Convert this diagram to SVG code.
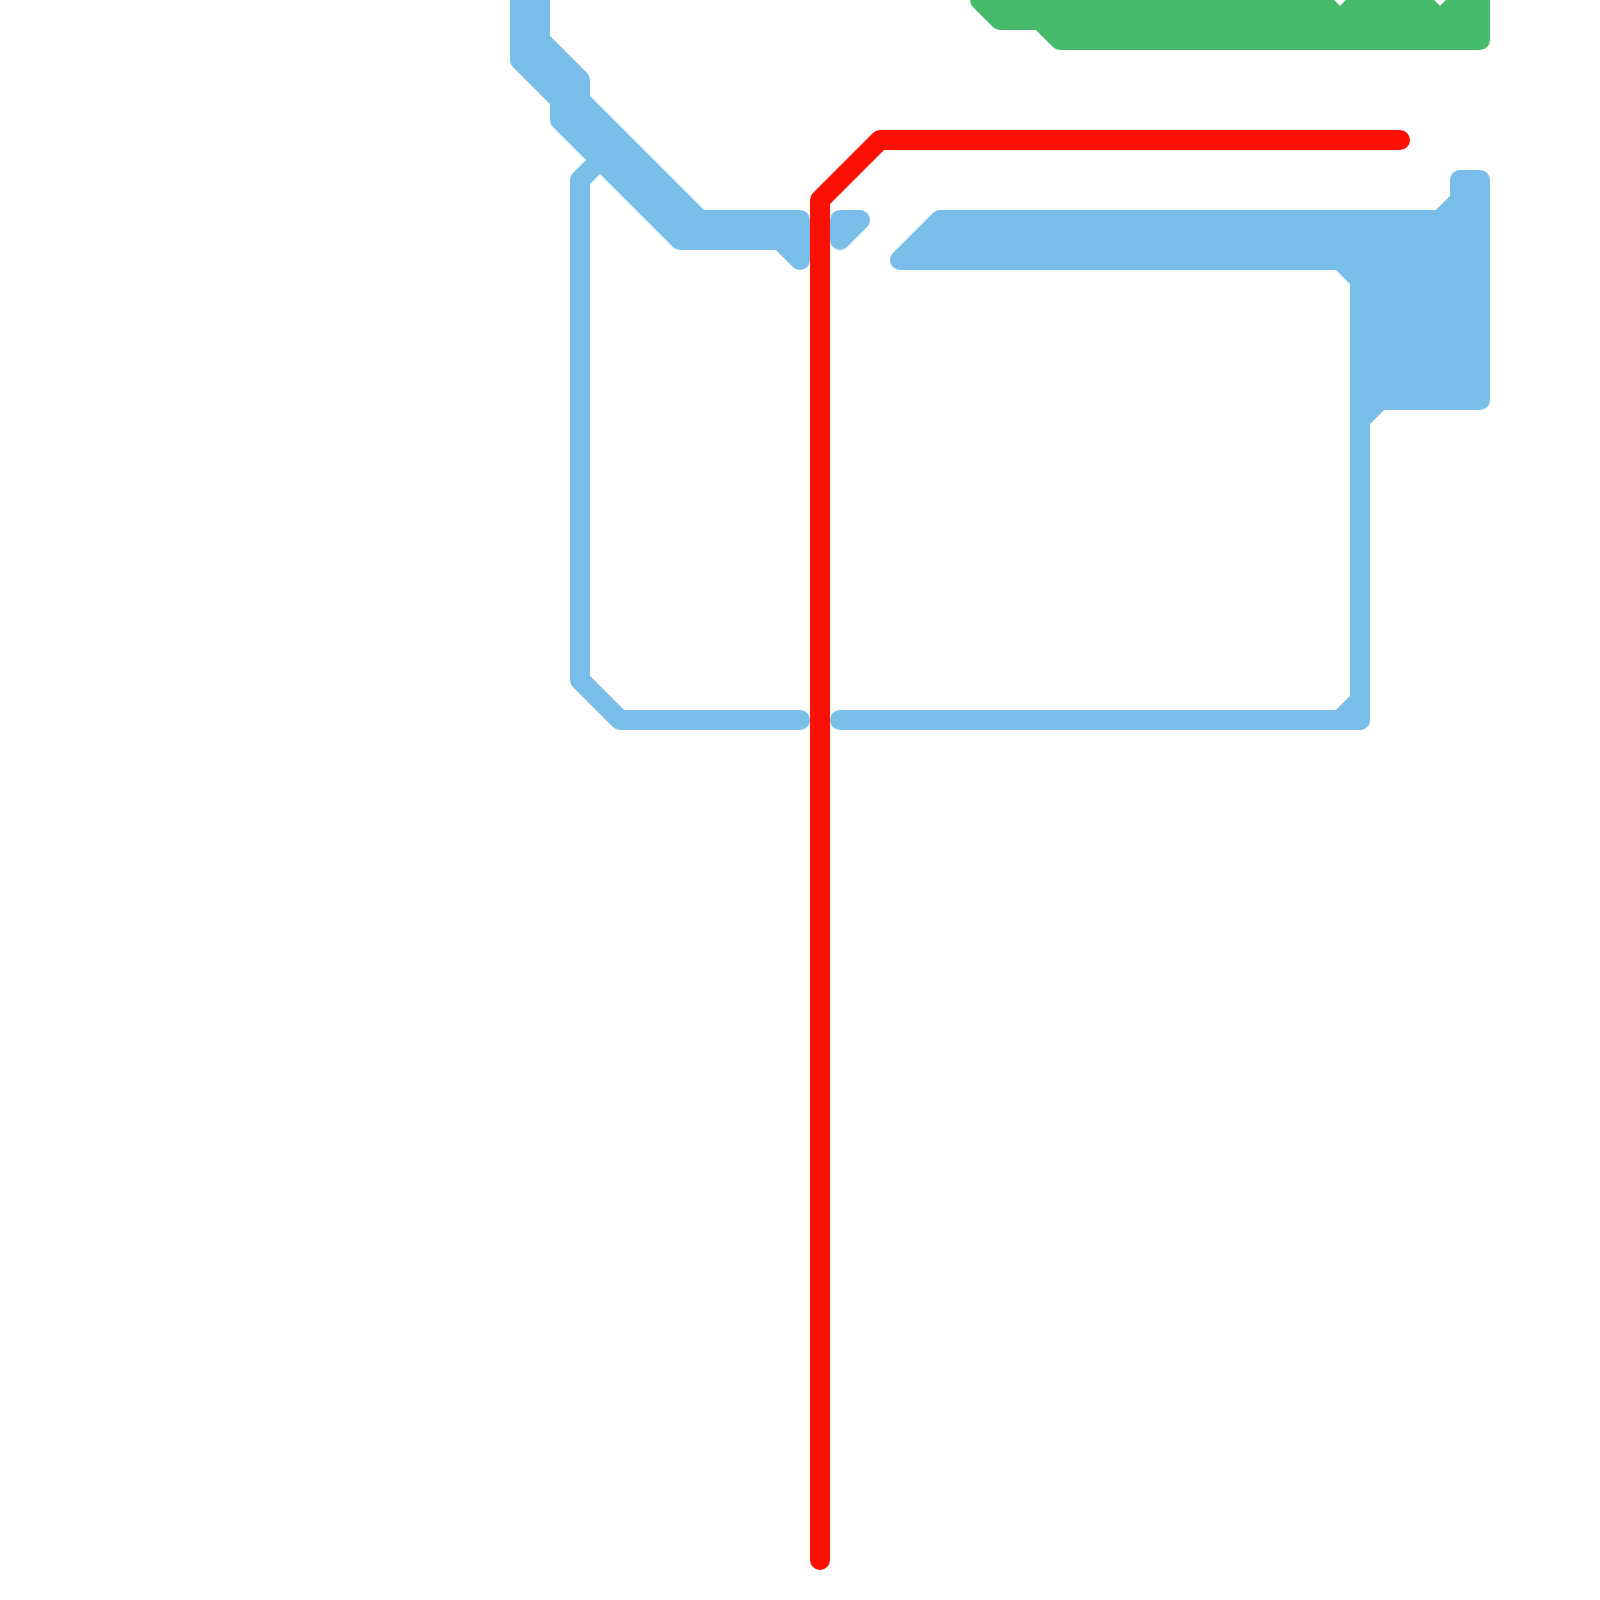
<svg xmlns="http://www.w3.org/2000/svg" width="1600" height="1600" viewBox="0 0 1600 1600">
<style>
.l{stroke-width:20;stroke-linejoin:round;stroke-linecap:round}
.b{stroke:#79bde9;fill:#79bde9}
.g{stroke:#46bb6c;fill:#46bb6c}
.r{stroke:#fa1005;fill:none}
.o{fill:none}
</style>
<rect width="1600" height="1600" fill="#ffffff"/>
<g id="connectors">
<g id="blue-line">
<path class="l b" d="M520,-20H540V40L580,80V100L700,220H800V260L780,240H680L560,120V100L520,60Z"/>
<path class="l b o" d="M800,720H620L580,680V180L600,160"/>
<path class="l b" d="M840,220H860L840,240Z"/>
<path class="l b" d="M940,220H1440L1460,200V180H1480V400H1380L1360,420V280L1340,260H900Z"/>
<path class="l b o" d="M840,720H1360V420"/>
<path class="l b" d="M1340,720L1360,700V720Z"/>
</g>
<g id="green-line">
<path class="l g" d="M980,0L1000,20H1040L1060,40H1480V-20L1440,20L1400,-20H1380L1340,20L1300,-20H980Z"/>
</g>
<g id="red-line">
<path class="l r" d="M820,1560V200L880,140H1400"/>
</g>
</g>
</svg>
